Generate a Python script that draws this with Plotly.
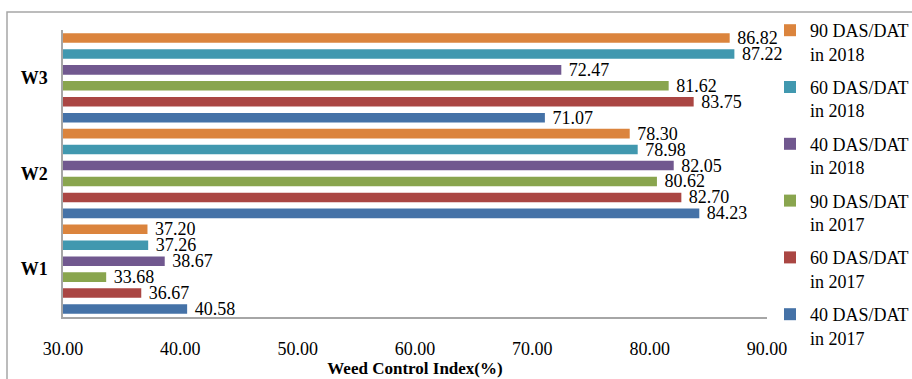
import plotly.graph_objects as go

categories = ["W1", "W2", "W3"]
series_names = [
    "40 DAS/DAT<br>in 2017",
    "60 DAS/DAT<br>in 2017",
    "90 DAS/DAT<br>in 2017",
    "40 DAS/DAT<br>in 2018",
    "60 DAS/DAT<br>in 2018",
    "90 DAS/DAT<br>in 2018",
]
das40_2017 = [40.58, 84.23, 71.07]
das60_2017 = [36.67, 82.70, 83.75]
das90_2017 = [33.68, 80.62, 81.62]
das40_2018 = [38.67, 82.05, 72.47]
das60_2018 = [37.26, 78.98, 87.22]
das90_2018 = [37.20, 78.30, 86.82]
series_values = [das40_2017, das60_2017, das90_2017, das40_2018, das60_2018, das90_2018]
colors = ["#4572A7", "#AA4643", "#89A54E", "#71588F", "#4198AF", "#DB843D"]
x_ticks = [30, 40, 50, 60, 70, 80, 90]

W, H = 912, 379
ML, MR, MT, MB = 63, 145, 30, 62
PW, PH = W - ML - MR, H - MT - MB

FONT = "Liberation Serif, Times New Roman, serif"

n = len(series_names)
fig = go.Figure()
for i, (name, vals, col) in enumerate(zip(series_names, series_values, colors)):
    fig.add_trace(go.Bar(
        y=categories, x=vals, name=name, orientation="h",
        legendgroup=f"g{i}", legendrank=1000 + (n - i),
        marker=dict(color=col, line=dict(width=0)),
        text=vals, texttemplate="\u00a0%{x:.2f}", textposition="outside",
        constraintext="none", cliponaxis=False,
        textfont=dict(family=FONT, size=18, color="black"),
    ))

def px_to_paper_x(px):
    return (px - ML) / PW

def px_to_paper_y(py):
    return 1 - (py - MT) / PH

fig.add_shape(type="rect", xref="paper", yref="paper",
              x0=px_to_paper_x(7), x1=px_to_paper_x(920),
              y0=px_to_paper_y(390), y1=px_to_paper_y(12),
              line=dict(color="#A6A6A6", width=1.5), fillcolor="rgba(0,0,0,0)", layer="below")

fig.update_layout(
    width=W, height=H,
    margin=dict(l=ML, r=MR, t=MT, b=MB, pad=0, autoexpand=False),
    paper_bgcolor="white", plot_bgcolor="white",
    barmode="group", bargap=0.0, bargroupgap=0.4,
    font=dict(family=FONT, size=18, color="black"),
    showlegend=True,
    legend=dict(
        traceorder="grouped", tracegroupgap=7,
        xref="container", yref="container",
        x=770 / W, xanchor="left", y=1 - 12 / H, yanchor="top",
        font=dict(family=FONT, size=18, color="black"),
        bgcolor="rgba(0,0,0,0)", valign="top", itemwidth=30,
        maxheight=379,
    ),
    xaxis=dict(
        range=[30, 90], tickvals=x_ticks, tickformat=".2f", automargin=False,
        showgrid=False, zeroline=False, showline=True, linecolor="#A6A6A6", linewidth=1.5,
        ticks="", ticklabelstandoff=15,
        tickfont=dict(family=FONT, size=18, color="black"),
        title=dict(text="<b>Weed Control Index(%)</b>", font=dict(family=FONT, size=17, color="black"), standoff=2),
    ),
    yaxis=dict(
        showgrid=False, zeroline=False, showline=True, linecolor="#A6A6A6", linewidth=1.5,
        ticks="", ticklabelstandoff=10, automargin=False,
        tickfont=dict(family=FONT, size=18, color="black"),
        tickprefix="<b>", ticksuffix="</b>",
    ),
)

fig.write_html("out.html")
